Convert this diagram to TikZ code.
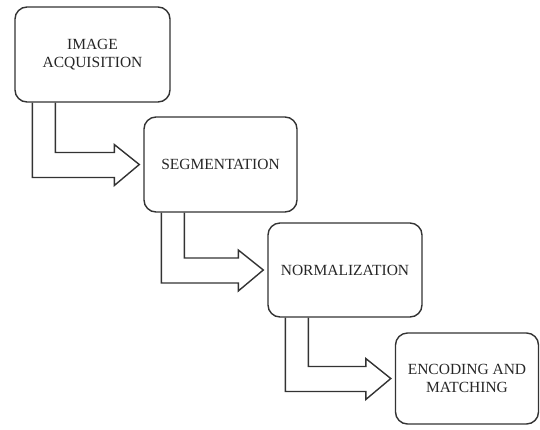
\documentclass[tikz,border=0pt]{standalone}
\usepackage{fontspec}
\setmainfont{Liberation Serif}
\usetikzlibrary{calc}
\tikzset{
  stagebox/.style={draw=black!80, line width=1.4pt, rounded corners=12pt,
    inner sep=0pt, align=center, font=\fontsize{15.5}{17.5}\selectfont, text=black!85},
  flowarrow/.style={draw=black!80, line width=1.4pt, line join=miter},
}
\newcommand{\stagearrow}[2]{%
  \coordinate (o1) at ($(#1.south west)+(18,0)$);
  \coordinate (i1) at ($(#1.south west)+(41,0)$);
  \coordinate (lo) at ($(#2.west)+(0,13)$);
  \coordinate (hi) at ($(#2.west)+(0,-12)$);
  \draw[flowarrow]
    (o1) -- (o1 |- lo)
    -- ($(#2.west)+(-29,13)$)
    -- ($(#2.west)+(-29,21)$)
    -- ($(#2.west)+(-4,0)$)
    -- ($(#2.west)+(-29,-20)$)
    -- ($(#2.west)+(-29,-12)$)
    -- (i1 |- hi)
    -- (i1);
}
\begin{document}
\begin{tikzpicture}[x=1pt,y=-1pt]
\useasboundingbox (0,0) rectangle (540,429);
\node[stagebox, minimum width=155pt, minimum height=95pt] (b1) at (92.5,54.5) {IMAGE\\ACQUISITION};
\node[stagebox, minimum width=153pt, minimum height=95pt] (b2) at (220.5,164.5) {SEGMENTATION};
\node[stagebox, minimum width=154pt, minimum height=94pt] (b3) at (345,270) {NORMALIZATION};
\node[stagebox, minimum width=143pt, minimum height=91pt] (b4) at (467,378.5) {ENCODING AND\\MATCHING};
\stagearrow{b1}{b2}
\stagearrow{b2}{b3}
\stagearrow{b3}{b4}
\end{tikzpicture}
\end{document}
